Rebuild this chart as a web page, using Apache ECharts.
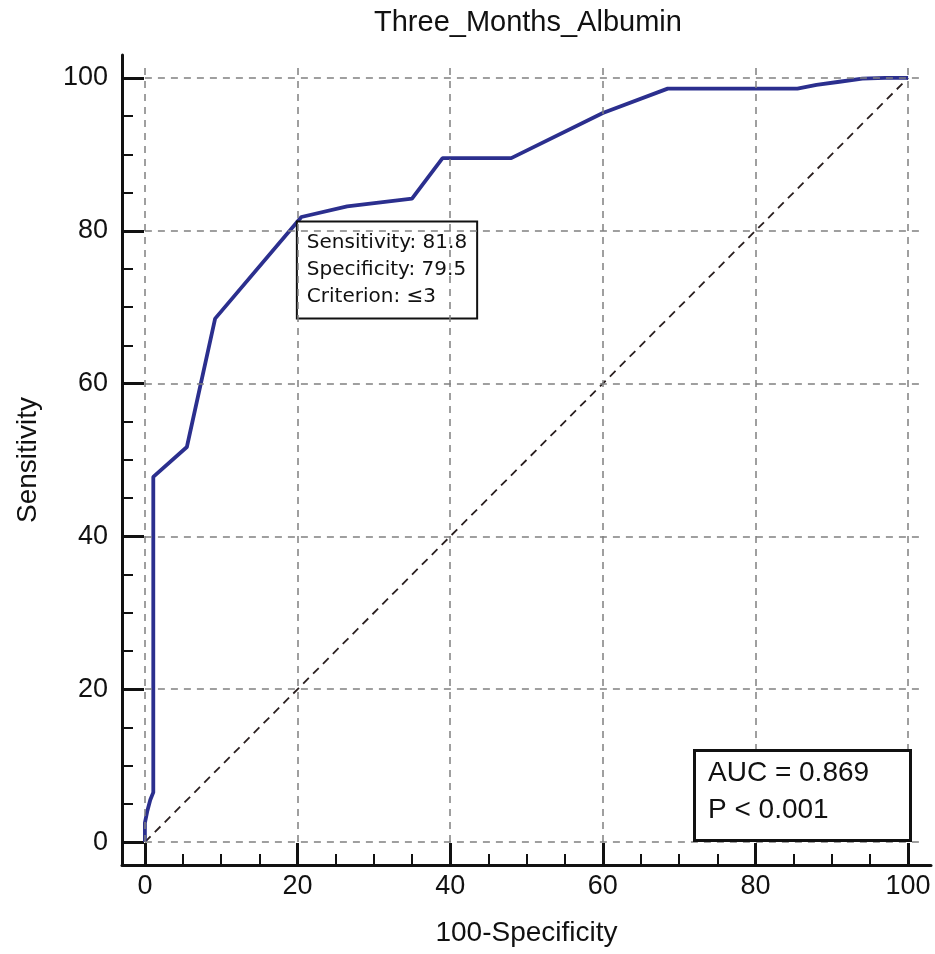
<meta charset="utf-8" />
<style>html, body { margin: 0; padding: 0; background: #fff; }</style>
<div id="main" style="width:935px;height:954px;"></div>
<script src="https://cdn.jsdelivr.net/npm/echarts@6/dist/echarts.min.js"></script>
<script type="text/javascript">
	// ROC curve points (x = 100-Specificity, y = Sensitivity)
	var rocX = [0, 0, 0.3, 0.7, 1.1, 1.1, 5.5, 9.2, 20.5, 26.5, 35, 39, 48, 60, 68.5, 85.5, 88, 91, 94, 97, 100];
	var rocY = [0, 2.5, 4, 5.5, 6.5, 47.8, 51.7, 68.5, 81.8, 83.2, 84.2, 89.5, 89.5, 95.4, 98.6, 98.6, 99.1, 99.5, 99.9, 100, 100];

	// diagonal (chance line)
	var diagX = [0, 100];
	var diagY = [0, 100];

	// cut-off point and its text
	var cutPoint = [20.5, 81.8];
	var cutText = ['Sensitivity: 81.8', 'Specificity: 79.5', 'Criterion: \u22643'];
	var aucText = ['AUC = 0.869', 'P < 0.001'];

	// tick labels
	var majorTicks = [0, 20, 40, 60, 80, 100];
	var minorTicks = [5, 10, 15, 25, 30, 35, 45, 50, 55, 65, 70, 75, 85, 90, 95];
	var gridMax = 102; // dashed grid runs a bit past 100

	var FONT = '"Liberation Sans", Arial, sans-serif';

	var rocData = [];
	for (var i = 0; i < rocX.length; i++) {
		rocData.push([rocX[i], rocY[i]]);
	}
	var diagData = [];
	for (var k = 0; k < diagX.length; k++) {
		diagData.push([diagX[k], diagY[k]]);
	}

	// dashed grid lines built from the major ticks
	var gridLines = [];
	majorTicks.forEach(function (v) {
		gridLines.push([{ coord: [v, 0] }, { coord: [v, gridMax] }]);
		gridLines.push([{ coord: [0, v] }, { coord: [gridMax, v] }]);
	});

	var myChart = echarts.init(document.getElementById('main'));

	function mainAxis(pos, name, gap, nameRotate) {
		return {
			type: 'value',
			position: pos,
			min: -3,
			max: 103,
			axisLine: { show: true, onZero: false, lineStyle: { color: '#111', width: 3 } },
			axisTick: { show: true, inside: true, length: 22, customValues: majorTicks, lineStyle: { color: '#111', width: 3 } },
			axisLabel: { customValues: majorTicks, fontSize: 27, fontFamily: FONT, color: '#111', margin: pos === 'left' ? 14 : 8 },
			splitLine: { show: false },
			name: name,
			nameLocation: 'middle',
			nameGap: gap,
			nameRotate: nameRotate,
			nameTextStyle: { fontSize: 28, fontFamily: FONT, color: '#111' }
		};
	}
	function minorAxis(pos) {
		return {
			type: 'value',
			position: pos,
			min: -3,
			max: 103,
			axisLine: { show: false, onZero: false },
			axisTick: { show: true, inside: true, length: 11, customValues: minorTicks, lineStyle: { color: '#111', width: 2 } },
			axisLabel: { show: false },
			splitLine: { show: false }
		};
	}

	var option = {
		animation: false,
		backgroundColor: '#fff',
		title: {
			text: 'Three_Months_Albumin',
			left: 374,
			top: 8,
			padding: 0,
			textStyle: { fontSize: 29, fontWeight: 'normal', fontFamily: FONT, color: '#111' }
		},
		grid: { left: 122, right: 4, top: 55, bottom: 89 },
		xAxis: [mainAxis('bottom', '100-Specificity', 54), minorAxis('bottom')],
		yAxis: [mainAxis('left', 'Sensitivity', 80, 90), minorAxis('left')],
		series: [
			{
				name: 'diagonal',
				type: 'line',
				data: diagData,
				symbol: 'none',
				z: 1,
				lineStyle: { color: '#2a1f1f', width: 1.8, type: [8, 6] },
				markLine: {
					silent: true,
					symbol: ['none', 'none'],
					label: { show: false },
					lineStyle: { color: '#808080', width: 1.5, type: [7, 6] },
					data: gridLines
				}
			},
			{
				name: 'ROC',
				type: 'line',
				data: rocData,
				symbol: 'none',
				z: 3,
				lineStyle: { color: '#2b2f8e', width: 3.8 }
			},
			{
				name: 'cutoff',
				type: 'scatter',
				data: [cutPoint],
				symbolSize: 1,
				z: 4,
				itemStyle: { color: '#2b2f8e', opacity: 1 },
				label: {
					show: true,
					formatter: cutText.join('\n'),
					position: [-3, 6],
					align: 'left',
					verticalAlign: 'top',
					fontFamily: '"DejaVu Sans", Verdana, sans-serif',
					fontSize: 20,
					lineHeight: 27,
					color: '#111',
					backgroundColor: '#fff',
					borderColor: '#111',
					borderWidth: 2,
					padding: [7, 9, 7, 9]
				}
			}
		],
		graphic: [
			{
				type: 'rect',
				left: 693,
				top: 749,
				z: 10,
				shape: { width: 216, height: 90 },
				style: { fill: '#fff', stroke: '#111', lineWidth: 3 }
			},
			{
				type: 'text',
				left: 708,
				top: 755,
				z: 11,
				style: { text: aucText.join('\n'), font: '28px ' + FONT, lineHeight: 37, fill: '#111' }
			}
		]
	};

	myChart.setOption(option);
</script>
